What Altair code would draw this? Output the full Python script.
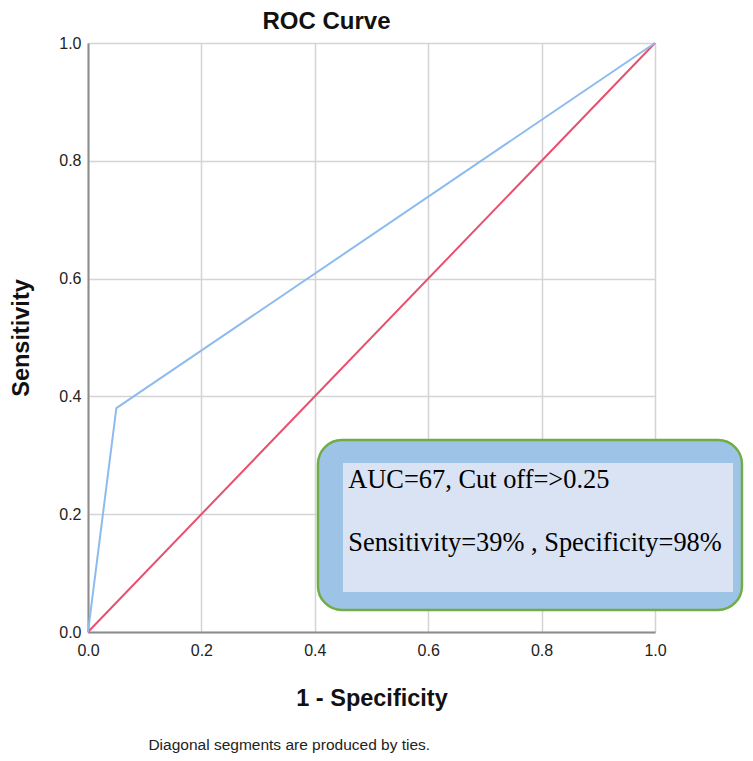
import altair as alt
import pandas as pd

# ROC curve points (1 - specificity, sensitivity)
roc_fpr = [0.0, 0.05, 1.0]
roc_tpr = [0.0, 0.38, 1.0]
ref_fpr = [0.0, 1.0]
ref_tpr = [0.0, 1.0]

tick_values = [0.0, 0.2, 0.4, 0.6, 0.8, 1.0]

note_lines = ["AUC=67, Cut off=>0.25", "Sensitivity=39% , Specificity=98%"]
footnote = "Diagonal segments are produced by ties."

roc_df = pd.DataFrame({"fpr": roc_fpr, "tpr": roc_tpr})
ref_df = pd.DataFrame({"fpr": ref_fpr, "tpr": ref_tpr})

xs = alt.Scale(domain=[0, 1], nice=False, zero=False)
ys = alt.Scale(domain=[0, 1], nice=False, zero=False)

common = dict(values=tick_values, format=".1f",
              labelFont="Liberation Sans", labelFontSize=16, labelColor="#222",
              labelFlush=False, ticks=False, domainColor="#8c8c8c", domainWidth=2,
              gridColor="#d4d4d4", gridWidth=1.5,
              titleFont="Liberation Sans", titleFontSize=23.5, titleFontWeight="bold",
              titleColor="#111")
xaxis = alt.Axis(title="1 - Specificity", labelPadding=10, titlePadding=28, **common)
yaxis = alt.Axis(title="Sensitivity", labelPadding=7, titlePadding=25, **common)

base_ref = alt.Chart(ref_df).mark_line(color="#e8506f", strokeWidth=2).encode(
    x=alt.X("fpr:Q", scale=xs, axis=xaxis),
    y=alt.Y("tpr:Q", scale=ys, axis=yaxis),
)
roc_line = alt.Chart(roc_df).mark_line(color="#8dbbef", strokeWidth=2).encode(
    x=alt.X("fpr:Q", scale=xs), y=alt.Y("tpr:Q", scale=ys)
)

box_df = pd.DataFrame({"x": [0.4056], "x2": [1.1534], "y": [0.326], "y2": [0.0374]})
inner_df = pd.DataFrame({"x": [0.4497], "x2": [1.1376], "y": [0.287], "y2": [0.068]})

outer_box = alt.Chart(box_df).mark_rect(
    fill="#9dc3e6", stroke="#70ad47", strokeWidth=2.5, cornerRadius=24
).encode(x=alt.X("x:Q", scale=xs), x2="x2", y=alt.Y("y:Q", scale=ys), y2="y2")
inner_box = alt.Chart(inner_df).mark_rect(fill="#dae3f3").encode(
    x=alt.X("x:Q", scale=xs), x2="x2", y=alt.Y("y:Q", scale=ys), y2="y2"
)

text_df = pd.DataFrame({"x": [0.459, 0.459], "y": [0.258, 0.151], "t": note_lines})
note_text = alt.Chart(text_df).mark_text(
    align="left", baseline="middle", font="Liberation Serif", fontSize=26.4, color="#000"
).encode(x=alt.X("x:Q", scale=xs), y=alt.Y("y:Q", scale=ys), text="t:N")

foot_df = pd.DataFrame({"x": [0.355], "y": [-0.192], "t": [footnote]})
foot_text = alt.Chart(foot_df).mark_text(
    align="center", baseline="middle", font="Liberation Sans", fontSize=15.5, color="#222"
).encode(x=alt.X("x:Q", scale=xs), y=alt.Y("y:Q", scale=ys), text="t:N")

chart = alt.layer(base_ref, roc_line, outer_box, inner_box, note_text, foot_text).properties(
    width=567, height=589,
    title=alt.TitleParams("ROC Curve", font="Liberation Sans", fontSize=24,
                          fontWeight="bold", color="#111", anchor="middle",
                          dx=-45, offset=1),
    autosize=alt.AutoSizeParams(type="none"),
    padding={"left": 80, "top": 35, "right": 90, "bottom": 121},
).configure_view(stroke=None).configure(background="white")

chart.save("out.html", embed_options={"renderer": "svg", "actions": False})
